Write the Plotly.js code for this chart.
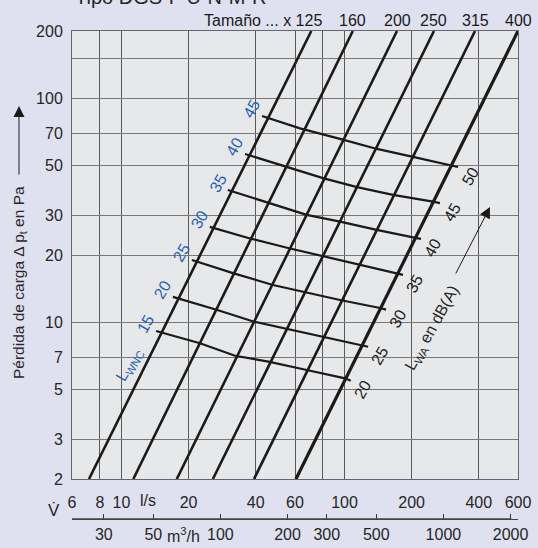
<!DOCTYPE html>
<html>
<head>
<meta charset="utf-8">
<script src="https://cdn.plot.ly/plotly-3.0.1.min.js"></script>
<style>
  html, body { margin: 0; padding: 0; background: #dfe1f0; }
  #chart { width: 538px; height: 548px; }
</style>
</head>
<body>
<div id="chart"></div>
<script>
// Duct sizes: each pressure-loss line runs from 2 Pa to 200 Pa (flow in l/s)
const sizes = ['125', '160', '200', '250', '315', '400'];
const flowAt2Pa = [7.15, 11.3, 17.7, 25.7, 39.3, 60.6];
const flowAt200Pa = [71, 109, 172, 252, 385, 600];
const pressureEnds = [2, 200];

// Sound level curves: L_WNC (left label) and L_WA in dB(A) (right label)
const lwnc = [45, 40, 35, 30, 25, 20, 15];
const lwa = [50, 45, 40, 35, 30, 25, 20];
const soundFlow = [
  [42.7, 63.2, 95.5, 140, 203, 303, 323],
  [35.8, 54.1, 63.2, 80.1, 113.8, 165, 249.4, 268],
  [30.0, 46.4, 67.7, 95.5, 139.5, 210.8, 220.4],
  [24.9, 37.7, 55.8, 81.8, 117.4, 171.5, 183],
  [20.7, 31.6, 47.8, 65.2, 95.5, 144.4, 153.6],
  [17.0, 26.7, 39.0, 54.1, 79.1, 121.4, 127.6],
  [14.3, 22.5, 32.3, 45.6, 65.4, 100.6, 106.7]
];
const soundLoss = [
  [83.5, 73.5, 66, 59.5, 54.8, 50.4, 49.4],
  [56.5, 49.6, 47.6, 44.1, 40.2, 37.1, 34.6, 34.1],
  [39.0, 34.1, 30.2, 28.2, 25.9, 23.8, 23.6],
  [26.7, 23.7, 21.5, 19.7, 18.0, 16.6, 16.3],
  [19.0, 16.6, 14.7, 13.7, 12.6, 11.6, 11.4],
  [13.0, 11.4, 10.1, 9.42, 8.63, 7.93, 7.79],
  [9.16, 8.07, 7.10, 6.68, 6.18, 5.63, 5.49]
];

// Axis ticks
const flowTicks = [6, 8, 10, 20, 40, 60, 80, 100, 200, 400, 600];
const flowTickText = ['6', '8', '10', '20', '40', '60', '', '100', '200', '400', '600'];
const lossTicks = [2, 3, 5, 7, 10, 20, 30, 50, 70, 100, 150, 200];
const lossTickText = ['2', '3', '5', '7', '10', '20', '30', '50', '70', '100', '', '200'];
const m3hTicks = [30, 50, 100, 200, 300, 500, 1000, 2000];
const m3hRange = [21.6, 2160];   // 6 .. 600 l/s expressed in m³/h

const FONT = 'Liberation Sans, Arial, Helvetica, sans-serif';
const INK = '#1a1a1a';
const TXT = '#262626';
const BLUE = '#1f62b3';

const traces = [];
sizes.forEach((s, i) => {
  traces.push({
    x: [flowAt2Pa[i], flowAt200Pa[i]], y: pressureEnds,
    mode: 'lines', hoverinfo: 'skip', showlegend: false,
    line: { color: INK, width: s === '400' ? 3.2 : 2.6 }
  });
});
soundFlow.forEach((fx, i) => {
  traces.push({
    x: fx, y: soundLoss[i],
    mode: 'lines', hoverinfo: 'skip', showlegend: false,
    line: { color: INK, width: 2.2 }
  });
});
// m³/h scale below the l/s scale
traces.push({
  x: m3hTicks, y: m3hTicks.map(() => 2), xaxis: 'x2', yaxis: 'y',
  mode: 'markers', marker: { opacity: 0 }, hoverinfo: 'skip', showlegend: false
});

const annotations = [];
const L = Math.log10;

// Size labels above the plot
sizes.forEach((s, i) => {
  annotations.push({
    x: L(flowAt200Pa[i]), xref: 'x', y: 1.0, yref: 'paper', yanchor: 'bottom',
    text: i === 0 ? 'Tamaño ... x 125' : s,
    xanchor: i === 0 ? 'right' : 'center', xshift: i === 0 ? 13 : 0,
    showarrow: false, font: { family: FONT, size: 16, color: INK }
  });
});

// Curve labels
soundFlow.forEach((fx, i) => {
  const n = fx.length - 1;
  annotations.push({
    x: L(fx[0]), y: L(soundLoss[i][0]), xref: 'x', yref: 'y',
    xanchor: 'center', yanchor: 'middle',
    text: String(lwnc[i]), showarrow: false, textangle: -60,
    xshift: -10, yshift: 7,
    font: { family: FONT, size: 16, color: BLUE }
  });
  annotations.push({
    x: L(fx[n]), y: L(soundLoss[i][n]), xref: 'x', yref: 'y',
    xanchor: 'center', yanchor: 'middle',
    text: String(lwa[i]), showarrow: false, textangle: -60,
    xshift: 12, yshift: -9,
    font: { family: FONT, size: 16, color: INK }
  });
});

// Pixel helpers for free text placement
const px = p => (p - 72) / 446;
const py = p => (519 - p) / 488;
const free = (x, y, text, extra) => Object.assign({
  x: px(x), y: py(y), xref: 'paper', yref: 'paper',
  xanchor: 'center', yanchor: 'middle', showarrow: false, text: text,
  font: { family: FONT, size: 16, color: TXT }
}, extra || {});

annotations.push(
  free(130, 365, 'L<sub>WNC</sub>', { textangle: -60, font: { family: FONT, size: 16, color: BLUE } }),
  free(432, 328, 'L<sub>WA</sub> en dB(A)', { textangle: -61 }),
  { x: px(490), y: py(207), xref: 'paper', yref: 'paper', ax: -35, ay: 68, text: '',
    showarrow: true, arrowhead: 2, arrowsize: 2.2, arrowwidth: 1, arrowcolor: INK },
  free(19, 283, 'Pérdida de carga Δ p<sub>t</sub> en Pa', { textangle: -90, font: { family: FONT, size: 15.5, color: TXT } }),
  { x: px(19), y: py(106), xref: 'paper', yref: 'paper', ax: 0, ay: 70, text: '',
    showarrow: true, arrowhead: 2, arrowsize: 2.2, arrowwidth: 1, arrowcolor: INK },
  { x: L(13.2), xref: 'x', y: py(500), yref: 'paper', xanchor: 'center', yanchor: 'middle',
    showarrow: false, text: 'l/s', font: { family: FONT, size: 16, color: TXT } },
  { x: L(68), xref: 'x2', y: py(535), yref: 'paper', xanchor: 'center', yanchor: 'middle',
    showarrow: false, text: 'm<sup>3</sup>/h', font: { family: FONT, size: 16, color: TXT } },
  free(54, 510, 'V\u0307', { font: { family: FONT, size: 17, color: TXT } }),
  { x: px(73), y: py(10), xref: 'paper', yref: 'paper', xanchor: 'left', yanchor: 'bottom',
    showarrow: false, text: 'Tipo DGS-F U-N-M-R', font: { family: FONT, size: 20, color: TXT } }
);

const layout = {
  width: 538, height: 548,
  margin: { l: 72, r: 20, t: 31, b: 29 },
  paper_bgcolor: '#dfe1f0',
  plot_bgcolor: '#e7e8ea',
  showlegend: false,
  font: { family: FONT, size: 16, color: TXT },
  xaxis: {
    type: 'log', range: [L(6), L(600)], anchor: 'y',
    tickvals: flowTicks, ticktext: flowTickText,
    ticks: 'outside', ticklen: 9, tickcolor: 'rgba(0,0,0,0)',
    showgrid: true, gridcolor: '#5a5a5a', gridwidth: 1,
    showline: true, mirror: true, linecolor: '#666', linewidth: 1,
    zeroline: false, tickfont: { family: FONT, size: 16, color: TXT }
  },
  xaxis2: {
    type: 'log', range: [L(m3hRange[0]), L(m3hRange[1])],
    overlaying: 'x', anchor: 'free', position: 0, side: 'bottom',
    tickvals: m3hTicks, ticktext: m3hTicks.map(String),
    ticks: 'inside', ticklen: 5, tickcolor: '#333', tickwidth: 1.2,
    showgrid: false, showline: true, linecolor: '#444', linewidth: 1.3,
    tickfont: { family: FONT, size: 16, color: TXT }
  },
  yaxis: {
    type: 'log', range: [L(2), L(200)], domain: [40 / 488, 1],
    tickvals: lossTicks, ticktext: lossTickText,
    ticks: 'outside', ticklen: 5, tickcolor: 'rgba(0,0,0,0)',
    showgrid: true, gridcolor: '#777', gridwidth: 1,
    showline: true, mirror: true, linecolor: '#666', linewidth: 1,
    zeroline: false, tickfont: { family: FONT, size: 16, color: TXT }
  },
  // baseline of the m³/h scale
  shapes: [{
    type: 'line', xref: 'paper', yref: 'paper', x0: 0, x1: 0.985, y0: 0, y1: 0,
    line: { color: '#444', width: 1.3 }, layer: 'above'
  }],
  annotations: annotations
};

Plotly.newPlot('chart', traces, layout, { staticPlot: true, displayModeBar: false });
</script>
</body>
</html>
